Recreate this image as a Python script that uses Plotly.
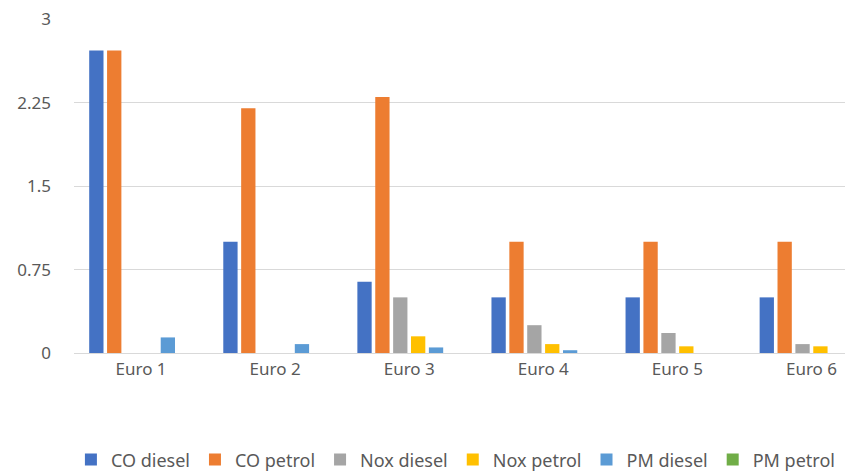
import plotly.graph_objects as go

categories = ["Euro 1", "Euro 2", "Euro 3", "Euro 4", "Euro 5", "Euro 6"]
co_diesel = [2.72, 1.0, 0.64, 0.5, 0.5, 0.5]
co_petrol = [2.72, 2.2, 2.3, 1.0, 1.0, 1.0]
nox_diesel = [0, 0, 0.5, 0.25, 0.18, 0.08]
nox_petrol = [0, 0, 0.15, 0.08, 0.06, 0.06]
pm_diesel = [0.14, 0.08, 0.05, 0.025, 0, 0]
pm_petrol = [0, 0, 0, 0, 0, 0]

series_names = ["CO diesel", "CO petrol", "Nox diesel", "Nox petrol", "PM diesel", "PM petrol"]
series_values = [co_diesel, co_petrol, nox_diesel, nox_petrol, pm_diesel, pm_petrol]
colors = ["#4472C4", "#ED7D31", "#A5A5A5", "#FFC000", "#5B9BD5", "#70AD47"]

y_tickvals = [0, 0.75, 1.5, 2.25, 3]
y_ticktext = ["0", "0.75", "1.5", "2.25", "3"]

FONT = "Noto Sans"
TXT = "#595959"
GRID = "#D9D9D9"

fig = go.Figure()
for name, vals, col in zip(series_names, series_values, colors):
    fig.add_trace(go.Bar(x=categories, y=vals, name=name, marker=dict(color=col, line=dict(width=0))))

fig.update_layout(
    width=845, height=471,
    margin=dict(l=74, r=0, t=19, b=118, autoexpand=False),
    paper_bgcolor="white", plot_bgcolor="white",
    barmode="group", bargap=0.2, bargroupgap=0.2,
    font=dict(family=FONT, size=17, color=TXT),
    showlegend=True,
    legend=dict(orientation="h", x=-0.004, xanchor="left", y=-0.32, yanchor="middle",
                font=dict(family=FONT, size=18, color=TXT), traceorder="normal"),
)
fig.update_xaxes(type="category", range=[-0.5, 5.25], showgrid=False, showline=False,
                 ticks="", tickfont=dict(family=FONT, size=17, color=TXT), ticklabelstandoff=4,
                 ticklabeloverflow="allow")
fig.update_yaxes(range=[0, 3.002], tickvals=y_tickvals, ticktext=y_ticktext, showgrid=True,
                 gridcolor=GRID, gridwidth=1, zeroline=True, zerolinecolor=GRID, zerolinewidth=1,
                 showline=False, ticks="", ticklabelstandoff=22,
                 tickfont=dict(family=FONT, size=17, color=TXT))

fig.write_html("out.html", config={"displayModeBar": False},
               post_script="document.body.style.margin='0px';document.body.style.overflow='hidden';")
